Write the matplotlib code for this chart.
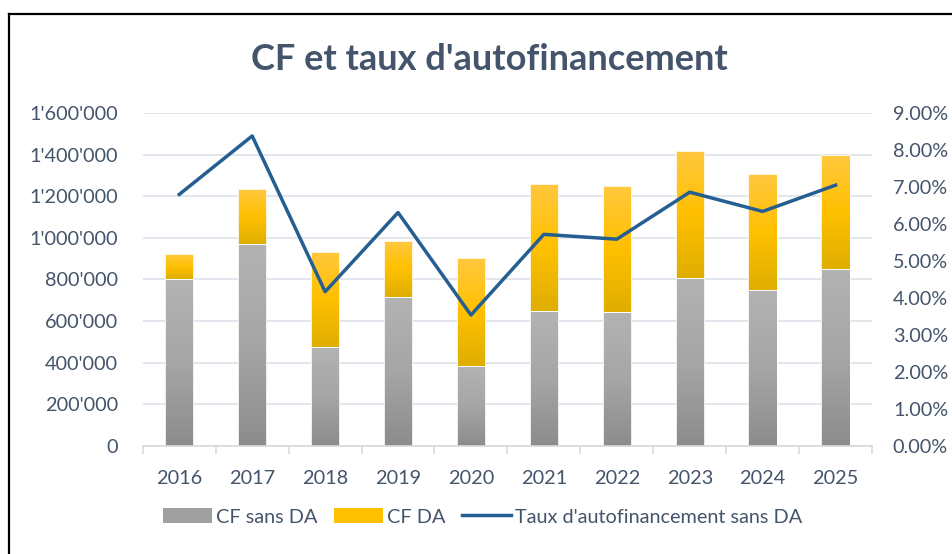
import numpy as np
import matplotlib
matplotlib.use("Agg")
import matplotlib.pyplot as plt
from matplotlib.colors import LinearSegmentedColormap
from matplotlib.lines import Line2D
from matplotlib.patches import Patch
from matplotlib.ticker import FuncFormatter, MultipleLocator

# %% data
annees = ["2016", "2017", "2018", "2019", "2020", "2021", "2022", "2023", "2024", "2025"]
cf_sans_da = [802000, 971000, 476000, 717000, 386000, 647000, 642000, 809000, 751000, 849000]
cf_da = [120000, 262000, 458000, 268000, 516000, 610000, 609000, 608000, 557000, 551000]
taux = [6.80, 8.38, 4.17, 6.31, 3.54, 5.72, 5.59, 6.86, 6.34, 7.05]

# %% style
txt = "#44546a"
plt.rcParams["font.family"] = ["Lato", "DejaVu Sans"]
fs = 14.3

gris = LinearSegmentedColormap.from_list("gris", ["#8c8c8c", "#a6a6a6", "#b3b3b3"])
jaune = LinearSegmentedColormap.from_list("jaune", ["#dfae00", "#ffc000", "#ffc83f"])


def barres_degrade(ax, x, hauteurs, bas, largeur, cmap):
    bars = ax.bar(x, hauteurs, largeur, bottom=bas, color="none",
                  edgecolor="white", linewidth=0.6, zorder=2)
    grad = np.linspace(0, 1, 256).reshape(-1, 1)
    for b in bars:
        x0, y0 = b.get_x(), b.get_y()
        w, h = b.get_width(), b.get_height()
        im = ax.imshow(grad, cmap=cmap, origin="lower", aspect="auto",
                       extent=(x0, x0 + w, y0, y0 + h), zorder=1.5)
        im.set_clip_path(b)
    return bars


# %% plot
fig = plt.figure(figsize=(9.52, 5.54), dpi=100)
ax = fig.add_axes([0.150, 0.195, 0.766, 0.601])
x = np.arange(len(annees))
largeur = 0.39

barres_degrade(ax, x, cf_sans_da, 0, largeur, gris)
barres_degrade(ax, x, cf_da, cf_sans_da, largeur, jaune)

ax.set_xlim(-0.5, len(annees) - 0.5)
ax.set_ylim(0, 1600000)
ax.yaxis.set_major_locator(MultipleLocator(200000))
ax.yaxis.set_major_formatter(FuncFormatter(lambda v, p: f"{int(v):,}".replace(",", "'")))
ax.grid(axis="y", color="#dde3ea", linewidth=1.2, zorder=0)
ax.set_axisbelow(True)
for s in ["top", "right", "left"]:
    ax.spines[s].set_visible(False)
ax.spines["bottom"].set_color("#d9d9d9")
ax.spines["bottom"].set_linewidth(1.2)

ax.set_xticks(x)
ax.set_xticklabels(annees)
ax.set_xticks(np.arange(-0.5, len(annees)), minor=True)
ax.tick_params(axis="x", which="major", length=0, pad=17, labelsize=fs, labelcolor=txt)
ax.tick_params(axis="x", which="minor", length=6, color="#d9d9d9", width=1.2)
ax.tick_params(axis="y", length=0, pad=18, labelsize=fs, labelcolor=txt)

ax2 = ax.twinx()
ax2.plot(x, taux, color="#255e91", linewidth=2.5, zorder=3)
ax2.set_ylim(0, 9)
ax2.yaxis.set_major_locator(MultipleLocator(1))
ax2.yaxis.set_major_formatter(FuncFormatter(lambda v, p: f"{v:.2f}%"))
ax2.tick_params(axis="y", length=0, pad=15, labelsize=fs, labelcolor=txt)
for s in ax2.spines.values():
    s.set_visible(False)

fig.text(0.514, 0.892, "CF et taux d'autofinancement", ha="center", va="center",
         fontsize=26, fontweight="bold", color=txt)

handles = [Patch(facecolor="#a0a0a0", label="CF sans DA"),
           Patch(facecolor="#ffc000", label="CF DA"),
           Line2D([], [], color="#255e91", linewidth=2.5, label="Taux d'autofinancement sans DA")]
fig.legend(handles=handles, loc="center", bbox_to_anchor=(0.507, 0.067), ncol=3,
           frameon=False, fontsize=fs, labelcolor=txt, handlelength=2.5,
           handleheight=0.8, handletextpad=0.2, columnspacing=0.8)

# cadre
fig.add_artist(Line2D([0.0095, 1.0], [0.975, 0.975], color="black", linewidth=1.6))
fig.add_artist(Line2D([0.0095, 0.0095], [0.0, 0.975], color="black", linewidth=1.6))

fig.savefig("out.png", dpi=100)
